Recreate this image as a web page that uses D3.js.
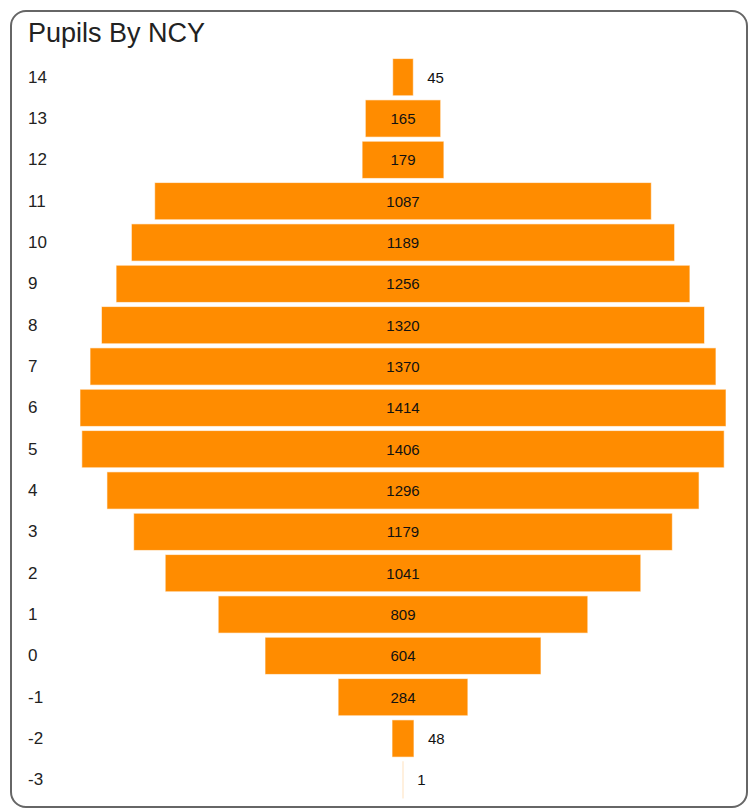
<!DOCTYPE html>
<html>
<head>
<meta charset="utf-8">
<script src="https://cdn.jsdelivr.net/npm/d3@7"></script>
<style>
  body { margin: 0; background: #fff; font-family: Arial, "Liberation Sans", sans-serif; }
</style>
</head>
<body>
<svg width="752" height="809"></svg>
<script>
const width = 752;
const height = 809;

const years = ["14", "13", "12", "11", "10", "9", "8", "7", "6", "5", "4", "3", "2", "1", "0", "-1", "-2", "-3"];
const pupils = [45, 165, 179, 1087, 1189, 1256, 1320, 1370, 1414, 1406, 1296, 1179, 1041, 809, 604, 284, 48, 1];

const centerX = 403;
const maxBar = 646;

const svg = d3.select("svg");

svg.append("rect")
  .attr("x", 11)
  .attr("y", 11)
  .attr("width", 736)
  .attr("height", 796)
  .attr("rx", 15)
  .attr("fill", "#fff")
  .attr("stroke", "#666")
  .attr("stroke-width", 2);

svg.append("text")
  .attr("x", 28)
  .attr("y", 42)
  .style("font-size", "27px")
  .style("fill", "#222")
  .text("Pupils By NCY");

const data = years.map((y, i) => ({ year: y, value: pupils[i] }));

const x = d3.scaleLinear()
  .domain([0, d3.max(pupils)])
  .range([0, maxBar]);

const y = d3.scaleBand()
  .domain(years)
  .range([56.5, 800.5])
  .paddingInner(0.1)
  .paddingOuter(0.05);

const rows = svg.append("g")
  .selectAll("g.row")
  .data(data)
  .enter()
  .append("g")
  .attr("class", "row");

rows.append("text")
  .attr("x", 28)
  .attr("y", d => y(d.year) + y.bandwidth() / 2)
  .attr("dominant-baseline", "central")
  .style("font-size", "17px")
  .style("fill", "#222")
  .text(d => d.year);

rows.append("rect")
  .attr("x", d => centerX - x(d.value) / 2)
  .attr("y", d => y(d.year))
  .attr("width", d => x(d.value))
  .attr("height", y.bandwidth())
  .attr("fill", "#ff8c00")
  .attr("stroke", "#fff")
  .attr("stroke-opacity", 0.6)
  .attr("stroke-width", 1);

rows.append("text")
  .attr("x", d => x(d.value) > 40 ? centerX : centerX + x(d.value) / 2 + 14)
  .attr("y", d => y(d.year) + y.bandwidth() / 2)
  .attr("dominant-baseline", "central")
  .attr("text-anchor", d => x(d.value) > 40 ? "middle" : "start")
  .style("font-size", "15px")
  .style("fill", "#111")
  .text(d => d.value);
</script>
</body>
</html>
